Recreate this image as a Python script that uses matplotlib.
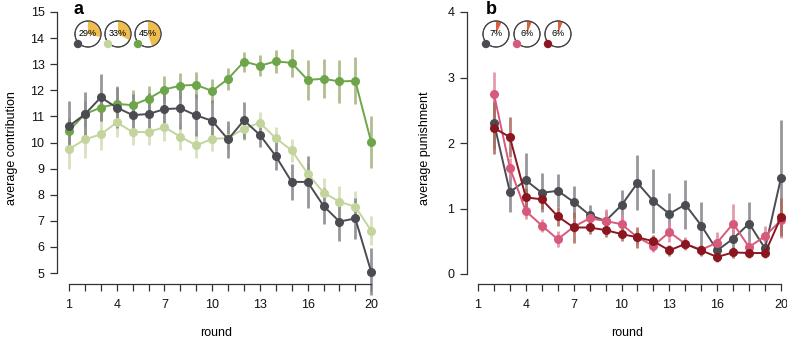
import numpy as np
import matplotlib
matplotlib.use("Agg")
import matplotlib.pyplot as plt
from matplotlib.patches import Circle, Wedge

plt.rcParams['font.family'] = ['Liberation Sans', 'DejaVu Sans']

rounds = np.arange(1, 21)
round_labels = [1, 4, 7, 10, 13, 16, 20]

# panel a: average contribution
contrib_gray = [10.63, 11.08, 11.73, 11.34, 11.05, 11.09, 11.28, 11.31, 11.04, 10.83,
                10.12, 10.85, 10.29, 9.48, 8.49, 8.49, 7.57, 6.97, 7.09, 5.04]
contrib_gray_err = [0.95, 0.86, 0.9, 0.8, 0.8, 0.8, 0.8, 0.8, 0.8, 0.8,
                    0.7, 0.7, 0.45, 0.55, 0.7, 1.0, 0.7, 0.75, 0.8, 0.9]
contrib_light = [9.74, 10.12, 10.31, 10.77, 10.40, 10.40, 10.59, 10.22, 9.89, 10.14,
                 10.17, 10.53, 10.76, 10.16, 9.70, 8.81, 8.08, 7.73, 7.54, 6.62]
contrib_light_err = [0.75, 0.7, 0.6, 0.55, 0.5, 0.5, 0.55, 0.5, 0.5, 0.45,
                     0.45, 0.45, 0.4, 0.45, 0.45, 0.4, 0.55, 0.6, 0.6, 0.55]
contrib_green = [10.45, 11.09, 11.34, 11.48, 11.43, 11.68, 12.03, 12.18, 12.21, 11.97,
                 12.44, 13.10, 12.94, 13.11, 13.05, 12.40, 12.44, 12.34, 12.36, 10.01]
contrib_green_err = [0.5, 0.5, 0.5, 0.7, 0.6, 0.5, 0.5, 0.5, 0.5, 0.45,
                     0.42, 0.38, 0.4, 0.45, 0.55, 0.78, 0.75, 0.83, 0.9, 1.0]
contrib_pct = [29, 33, 45]

# panel b: average punishment (rounds 2-20)
pun_rounds = np.arange(2, 21)
pun_gray = [2.31, 1.25, 1.43, 1.24, 1.27, 1.10, 0.90, 0.81, 1.05, 1.39,
            1.11, 0.92, 1.06, 0.74, 0.36, 0.54, 0.77, 0.39, 1.47]
pun_gray_err = [0.4, 0.3, 0.42, 0.3, 0.25, 0.25, 0.15, 0.15, 0.23, 0.42,
                0.49, 0.31, 0.38, 0.36, 0.1, 0.15, 0.33, 0.07, 0.88]
pun_pink = [2.75, 1.62, 0.96, 0.74, 0.53, 0.72, 0.85, 0.81, 0.76, 0.56,
            0.43, 0.64, 0.46, 0.37, 0.48, 0.77, 0.41, 0.58, 0.82]
pun_pink_err = [0.33, 0.15, 0.12, 0.1, 0.12, 0.1, 0.1, 0.19, 0.15, 0.1,
                0.1, 0.15, 0.1, 0.08, 0.16, 0.3, 0.1, 0.15, 0.27]
pun_red = [2.23, 2.09, 1.17, 1.14, 0.88, 0.71, 0.71, 0.67, 0.61, 0.56,
           0.50, 0.36, 0.46, 0.36, 0.26, 0.33, 0.32, 0.32, 0.87]
pun_red_err = [0.4, 0.3, 0.15, 0.15, 0.15, 0.24, 0.1, 0.1, 0.1, 0.16,
               0.1, 0.08, 0.08, 0.08, 0.08, 0.08, 0.08, 0.08, 0.29]
pun_pct = [7, 6, 6]

c_gray, c_light, c_green = '#4b4b52', '#c3d59c', '#6ea54a'
e_gray, e_light, e_green = '#85858a', '#d3dcb5', '#a3b27a'
c_pink, c_red = '#d75a7c', '#8a1620'
e_pink, e_red = '#e08aa0', '#a8685a'

W, H = 787, 344
FS = 9
fig = plt.figure(figsize=(W / 100, H / 100), dpi=100)


def px_axes(x0, x1, y_top, y_bot):
    return fig.add_axes([x0 / W, 1 - y_bot / H, (x1 - x0) / W, (y_bot - y_top) / H])


def style(ax, ylo, yhi, yticks):
    for s in ['top', 'right']:
        ax.spines[s].set_visible(False)
    ax.spines['left'].set_bounds(ylo, yhi)
    ax.spines['bottom'].set_bounds(1, 20)
    for s in ['left', 'bottom']:
        ax.spines[s].set_color('#333333')
        ax.spines[s].set_linewidth(0.9)
    ax.set_yticks(yticks)
    ax.set_xticks(rounds)
    ax.set_xticklabels([str(r) if r in round_labels else '' for r in rounds])
    ax.tick_params(axis='both', length=5, width=0.9, color='#333333', labelsize=FS,
                   labelcolor='#111111')
    ax.tick_params(axis='x', pad=6)
    ax.tick_params(axis='y', pad=4)
    ax.set_xlabel('round', fontsize=FS, labelpad=11)


def series(ax, x, y, err, col, ecol):
    ax.vlines(x, np.array(y) - np.array(err), np.array(y) + np.array(err),
              color=ecol, lw=2, alpha=0.85, clip_on=False, zorder=2)
    ax.plot(x, y, '-o', color=col, lw=1.4, ms=5.5, clip_on=False, zorder=3)


# panel a
axa = px_axes(57, 376, 12, 284)
axa.set_xlim(1 - 12 / 15.9, 20.3)
axa.set_ylim(5 - 11 / 26.1, 15)
style(axa, 5, 15, range(5, 16))
series(axa, rounds, contrib_light, contrib_light_err, c_light, e_light)
series(axa, rounds, contrib_green, contrib_green_err, c_green, e_green)
series(axa, rounds, contrib_gray, contrib_gray_err, c_gray, e_gray)
axa.set_ylabel('average contribution', fontsize=FS, labelpad=9)

# panel b
axb = px_axes(467, 787, 12, 284)
axb.set_xlim(1 - 11 / 15.95, 20 + 6 / 15.95)
axb.set_ylim(-10 / 65.5, 4)
style(axb, 0, 4, range(0, 5))
series(axb, pun_rounds, pun_gray, pun_gray_err, c_gray, e_gray)
series(axb, pun_rounds, pun_pink, pun_pink_err, c_pink, e_pink)
series(axb, pun_rounds, pun_red, pun_red_err, c_red, e_red)
axb.set_ylabel('average punishment', fontsize=FS, labelpad=12)

# overlay for panel letters and pie insets (pixel coordinates)
ov = fig.add_axes([0, 0, 1, 1])
ov.set_xlim(0, W)
ov.set_ylim(0, H)
ov.axis('off')
ov.text(74, H - 9, 'a', fontsize=13, fontweight='bold', va='center', ha='left')
ov.text(486, H - 9, 'b', fontsize=13, fontweight='bold', va='center', ha='left')


def pies(xs, y, pcts, wcol, dcols):
    for cx, p, dc in zip(xs, pcts, dcols):
        cy = H - y
        ov.add_patch(Circle((cx, cy), 13, fc='white', ec='#444444', lw=0.8))
        ov.add_patch(Wedge((cx, cy), 13, 90 - p * 3.6, 90, fc=wcol, ec='none'))
        ov.add_patch(Circle((cx, cy), 13, fc='none', ec='#444444', lw=0.8))
        ov.text(cx, cy, f'{p}%', fontsize=6.5, ha='center', va='center')
        ov.add_patch(Circle((cx - 10, cy - 10), 4.2, fc=dc, ec='none'))


pies([88, 118, 148], 34, contrib_pct, '#efbd4f', [c_gray, c_light, c_green])
pies([496, 527, 558], 34, pun_pct, '#d9603c', [c_gray, c_pink, c_red])

fig.savefig('out.png', dpi=100)
